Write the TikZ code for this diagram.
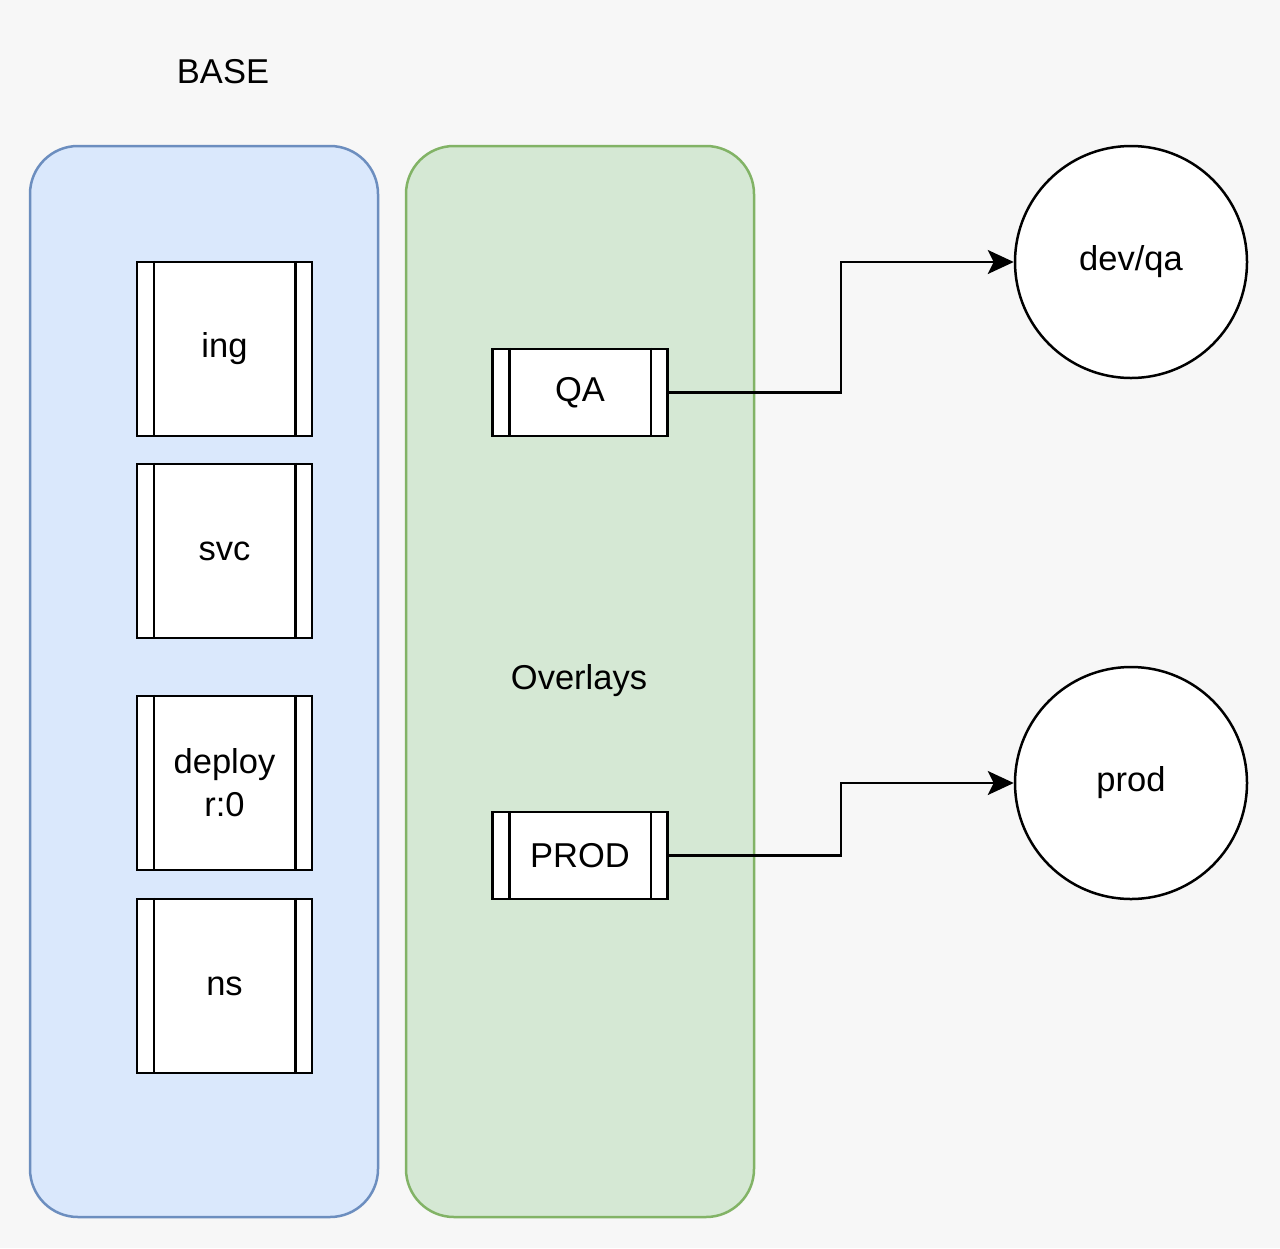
\documentclass[tikz,border=0pt]{standalone}
\usepackage{fontspec}
\setmainfont{Liberation Sans}
\usetikzlibrary{arrows.meta}
\definecolor{bg}{HTML}{F7F7F7}
\definecolor{bluefill}{HTML}{DAE8FC}
\definecolor{bluedraw}{HTML}{6C8EBF}
\definecolor{greenfill}{HTML}{D5E8D4}
\definecolor{greendraw}{HTML}{82B366}
\tikzset{
  panel/.style={rounded corners=48pt, line width=2.5pt},
  procbox/.style={draw=black, fill=white, line width=2.5pt, minimum width=175pt, inner sep=0pt, font=\fontsize{34.5}{43}\selectfont, align=center},
  tallbox/.style={procbox, minimum height=174pt},
  shortbox/.style={procbox, minimum height=87pt},
  target/.style={circle, draw=black, fill=white, line width=2.5pt, minimum size=232pt, inner sep=0pt, font=\fontsize{34.5}{43}\selectfont},
  label/.style={font=\fontsize{34.5}{43}\selectfont},
  conn/.style={line width=2.5pt, -{Stealth[length=26pt,width=24pt,inset=6pt]}}
}
\newcommand{\sidelines}[1]{%
  \draw[line width=2.5pt] ([xshift=18pt]#1.north west) -- ([xshift=18pt]#1.south west);
  \draw[line width=2.5pt] ([xshift=-18pt]#1.north east) -- ([xshift=-18pt]#1.south east);
}
\begin{document}
\begin{tikzpicture}[x=1pt,y=-1pt]
\fill[bg] (0,0) rectangle (1280,1248);
\useasboundingbox (0,0) rectangle (1280,1248);
\draw[panel, fill=bluefill, draw=bluedraw] (30,146) rectangle (378,1217);
\draw[panel, fill=greenfill, draw=greendraw] (406,146) rectangle (754,1217);
\node[label] (base) at (223,72) {BASE};
\node[label] (overlays) at (579,681) {Overlays};
\node[tallbox] (ing) at (224.5,349) {ing};
\node[tallbox] (svc) at (224.5,551) {svc};
\node[tallbox] (deploy) at (224.5,783) {deploy\\r:0};
\node[tallbox] (ns) at (224.5,986) {ns};
\node[shortbox] (qa) at (580,392.5) {QA};
\node[shortbox] (prod) at (580,855.5) {PROD};
\sidelines{ing}
\sidelines{svc}
\sidelines{deploy}
\sidelines{ns}
\sidelines{qa}
\sidelines{prod}
\node[target] (devqa) at (1131,262) {dev/qa};
\node[target] (prodc) at (1131,783) {prod};
\draw[conn] (qa.east) -- (841,392.5) |- (devqa.west);
\draw[conn] (prod.east) -- (841,855.5) |- (prodc.west);
\end{tikzpicture}
\end{document}
